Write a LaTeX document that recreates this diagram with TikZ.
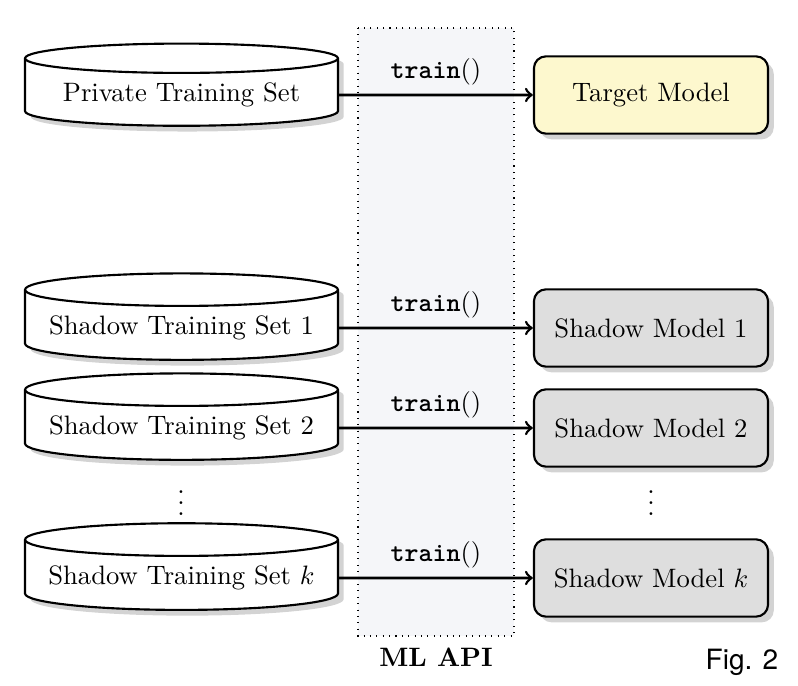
\documentclass[tikz,border=0pt]{standalone}
\usepackage{fontspec}
\newfontfamily\figfont{TeX Gyre Heros}
\usetikzlibrary{shapes.geometric,shadows}
\definecolor{apibg}{RGB}{245,246,249}
\definecolor{targetfill}{RGB}{253,248,206}
\definecolor{shadowfill}{RGB}{222,222,222}
\begin{document}
\begin{tikzpicture}[x=0.0132cm, y=-0.0132cm,
  dataset/.style={cylinder, shape border rotate=90, aspect=0.115, draw, thick, fill=white,
    minimum width=4.13cm, minimum height=0.97cm, drop shadow={opacity=0.35}},
  model/.style={rectangle, rounded corners=4.5pt, draw, thick,
    minimum width=3.09cm, minimum height=1.02cm, drop shadow={opacity=0.35}},
  call/.style={->, line width=1pt}]
\useasboundingbox (0,0) rectangle (798,686);
% the API band
\draw[dotted, fill=apibg] (358,28) rectangle (514,636);
\node[font=\bfseries] (api) at (436,657) {ML API};
% target side
\node[dataset] (private) at (181.5,95) {Private Training Set};
\node[model, fill=targetfill] (target) at (651,95) {Target Model};
\draw[call] (private) -- node[above=0pt] {\texttt{\textbf{train}}()} (target);
% shadow side
\foreach \y/\n/\id in {328/1/1, 428/2/2, 578/$k$/k}{
  \node[dataset] (shadowset\id) at (181.5,\y) {Shadow Training Set \n};
  \node[model, fill=shadowfill] (shadowmodel\id) at (651,\y) {Shadow Model \n};
  \draw[call] (shadowset\id) -- node[above=0pt] {\texttt{\textbf{train}}()} (shadowmodel\id);
}
\node (dotsset) at (181,495) {$\vdots$};
\node (dotsmodel) at (651,495) {$\vdots$};
\node[font=\figfont\fontsize{10.5}{12}\selectfont] (fig) at (742,662) {Fig. 2};
\end{tikzpicture}
\end{document}
